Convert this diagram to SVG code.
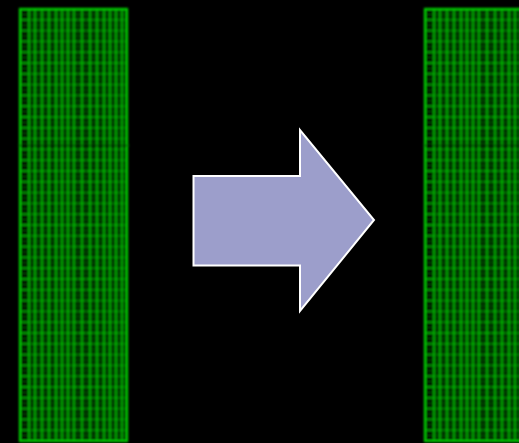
<svg xmlns="http://www.w3.org/2000/svg" xmlns:xlink="http://www.w3.org/1999/xlink" width="519" height="443" viewBox="0 0 519 443">
  <style>
    .bright { stroke: #00b000; stroke-width: 1.8; fill: none; }
    .faint { stroke: #004a00; stroke-width: 1.6; fill: none; }
    .edge { stroke: #00d000; stroke-width: 2.2; fill: none; }
    .arrow { fill: #9c9ecb; stroke: #ffffff; stroke-width: 2; stroke-linejoin: miter; }
  </style>
  <defs>
    <filter id="glow" x="-5%" y="-5%" width="110%" height="110%">
      <feGaussianBlur stdDeviation="0.9"/>
    </filter>
    <pattern id="hlines" patternUnits="userSpaceOnUse" x="0" y="9" width="120" height="10.8">
      <rect x="0" y="-0.9" width="120" height="1.8" fill="#00a800"/>
      <rect x="0" y="9.9" width="120" height="1.8" fill="#00a800"/>
      <rect x="0" y="4.6" width="120" height="1.6" fill="#004800"/>
    </pattern>
    <g id="grid">
      <rect x="20" y="9" width="107" height="432" fill="#001000"/>
      <rect x="20" y="9" width="107" height="432" fill="url(#hlines)"/>
      <path class="bright" d="M29 9V441M35 9V441M42 9V441M49 9V441M56 9V441M62 9V441M68 9V441M74 9V441M82 9V441M90 9V441M97 9V441M104 9V441M110 9V441M116 9V441M122 9V441"/>
      <path class="faint" d="M31.5 9V441M38.5 9V441M45.5 9V441M52.5 9V441M59 9V441M65 9V441M71 9V441M78 9V441M86 9V441M93.5 9V441M100.5 9V441M107 9V441M113 9V441M119 9V441M124.5 9V441"/>
      <rect class="edge" x="20" y="9" width="107" height="432"/>
      <line x1="18" y1="145.5" x2="130" y2="145.5" stroke="#000000" stroke-width="1.2"/>
    </g>
  </defs>
  <rect width="519" height="443" fill="#000000"/>
  <g id="panel-left" filter="url(#glow)">
    <use xlink:href="#grid"/>
  </g>
  <g id="panel-right" filter="url(#glow)">
    <use xlink:href="#grid" x="405"/>
  </g>
  <g id="arrow">
    <polygon class="arrow" points="193.5,176 300,176 300,130 374,220 300,311 300,265.5 193.5,265.5"/>
  </g>
</svg>
